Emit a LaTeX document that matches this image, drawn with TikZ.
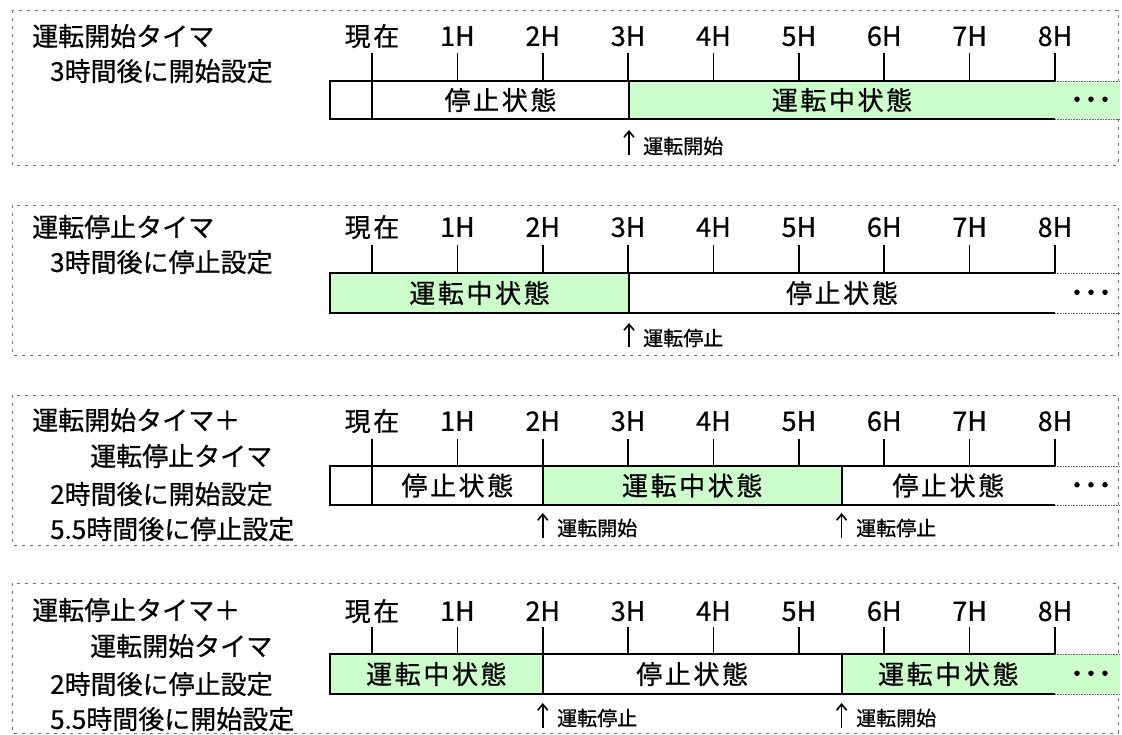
\documentclass[tikz,border=0pt]{standalone}
\usepackage{fontspec}
\setmainfont{Noto Sans CJK JP}
\newfontfamily\jp{Noto Sans CJK JP}[FakeBold=0.6]
\newfontfamily\jpsp{Noto Sans CJK JP}[FakeBold=0.6,LetterSpace=10]
\newfontfamily\jpdot{Noto Sans CJK JP}[FakeBold=2.5]
\usetikzlibrary{arrows.meta}
\definecolor{rungreen}{HTML}{CCFFCC}
\definecolor{hatchgray}{gray}{0.45}
\begin{document}
\begin{tikzpicture}[x=1pt,y=-1pt,
  big/.style={inner sep=0pt, text height=22.9pt, text depth=3.1pt},
  small/.style={inner sep=0pt, text height=17.6pt, text depth=2.4pt},
  title/.style={big, anchor=west, font=\jp\fontsize{26}{26}\selectfont},
  hourlbl/.style={big, font=\jp\fontsize{27}{27}\selectfont},
  nowlbl/.style={big, font=\jpsp\fontsize{26}{26}\selectfont},
  state/.style={big, font=\jpsp\fontsize{26}{26}\selectfont},
  dots/.style={big, font=\jpdot\fontsize{28}{28}\selectfont},
  note/.style={small, anchor=west, font=\jp\fontsize{20}{20}\selectfont},
  boxline/.style={draw=black, line width=2pt},
  tickline/.style={draw=black, line width=1.6pt},
  extline/.style={draw=black!60, line width=0.8pt, dash pattern=on 0.8pt off 0.8pt},
  frame/.style={draw=hatchgray, line width=0.9pt, dash pattern=on 3pt off 5pt},
  ev/.style={draw=black, line width=1.6pt, -{Straight Barb[length=6pt,width=10pt]}}
]
\useasboundingbox (0,0) rectangle (1122,735);
\fill[white] (0,0) rectangle (1122,735);

% ================= Panel 1 =================
\draw[frame] (12,10) rectangle (1118,165);
\node[title] (p1t) at (32,36) {運転開始タイマ};
\node[title] (p1s) at (50,71) {3時間後に開始設定};
\fill[rungreen] (629,81) rectangle (1120,119);
\node[nowlbl] (p1h0) at (372,36) {現在};
\draw[tickline] (372,53) -- (372,81);
\foreach \h/\l in {1/1H,2/2H,3/3H,4/4H,5/5H,6/6H,7/7H,8/8H}{
  \node[hourlbl] (p1h\h) at ({372+85.375*\h},36) {\l};
  \draw[tickline] ({372+85.375*\h},53) -- ({372+85.375*\h},81);
}
\draw[boxline] (330,81) -- (1055,81);
\draw[boxline] (330,119) -- (1055,119);
\draw[boxline] (330,80) -- (330,120);
\draw[boxline] (372,81) -- (372,119);
\draw[boxline] (629,81) -- (629,119);
\draw[extline] (1055,81) -- (1120,81);
\draw[extline] (1055,119) -- (1120,119);
\node[state] (p1c1) at (500.5,100) {停止状態};
\node[state] (p1c2) at (842,100) {運転中状態};
\node[dots] (p1m) at (1091,100) {･･･};
\coordinate (p1a0) at (629,155);
\coordinate (p1a1) at (629,130);
\draw[ev] (p1a0) -- (p1a1);
\node[note] (p1n) at (643,146) {運転開始};

% ================= Panel 2 =================
\draw[frame] (12,205) rectangle (1118,355);
\node[title] (p2t) at (32,227) {運転停止タイマ};
\node[title] (p2s) at (50,262) {3時間後に停止設定};
\fill[rungreen] (330,273) rectangle (629,313);
\node[nowlbl] (p2h0) at (372,227) {現在};
\draw[tickline] (372,245) -- (372,273);
\foreach \h/\l in {1/1H,2/2H,3/3H,4/4H,5/5H,6/6H,7/7H,8/8H}{
  \node[hourlbl] (p2h\h) at ({372+85.375*\h},227) {\l};
  \draw[tickline] ({372+85.375*\h},245) -- ({372+85.375*\h},273);
}
\draw[boxline] (330,273) -- (1055,273);
\draw[boxline] (330,313) -- (1055,313);
\draw[boxline] (330,272) -- (330,314);
\draw[boxline] (629,273) -- (629,313);
\draw[extline] (1055,273) -- (1120,273);
\draw[extline] (1055,313) -- (1120,313);
\node[state] (p2c1) at (479.5,293) {運転中状態};
\node[state] (p2c2) at (842,293) {停止状態};
\node[dots] (p2m) at (1091,293) {･･･};
\coordinate (p2a0) at (629,347);
\coordinate (p2a1) at (629,323);
\draw[ev] (p2a0) -- (p2a1);
\node[note] (p2n) at (643,338) {運転停止};

% ================= Panel 3 =================
\draw[frame] (12,395) rectangle (1118,545);
\node[title] (p3t) at (32,420) {運転開始タイマ＋};
\node[title] (p3t2) at (90,456) {運転停止タイマ};
\node[title] (p3s) at (50,494) {2時間後に開始設定};
\node[title] (p3s2) at (50,529) {5.5時間後に停止設定};
\fill[rungreen] (542.75,466) rectangle (841.6,505);
\node[nowlbl] (p3h0) at (372,421) {現在};
\draw[tickline] (372,439) -- (372,466);
\foreach \h/\l in {1/1H,2/2H,3/3H,4/4H,5/5H,6/6H,7/7H,8/8H}{
  \node[hourlbl] (p3h\h) at ({372+85.375*\h},421) {\l};
  \draw[tickline] ({372+85.375*\h},439) -- ({372+85.375*\h},466);
}
\draw[boxline] (330,466) -- (1055,466);
\draw[boxline] (330,505) -- (1055,505);
\draw[boxline] (330,465) -- (330,506);
\draw[boxline] (372,466) -- (372,505);
\draw[boxline] (542.75,466) -- (542.75,505);
\draw[boxline] (841.6,466) -- (841.6,505);
\draw[extline] (1055,466) -- (1120,466);
\draw[extline] (1055,505) -- (1120,505);
\node[state] (p3c1) at (457.4,485.5) {停止状態};
\node[state] (p3c2) at (692.2,485.5) {運転中状態};
\node[state] (p3c3) at (948.3,485.5) {停止状態};
\node[dots] (p3m) at (1091,485.5) {･･･};
\coordinate (p3a0) at (542.75,538);
\coordinate (p3a1) at (542.75,513);
\draw[ev] (p3a0) -- (p3a1);
\node[note] (p3n) at (557,528) {運転開始};
\coordinate (p3b0) at (841.6,538);
\coordinate (p3b1) at (841.6,513);
\draw[ev] (p3b0) -- (p3b1);
\node[note] (p3n2) at (856,528) {運転停止};

% ================= Panel 4 =================
\draw[frame] (12,583) rectangle (1118,733);
\node[title] (p4t) at (32,610) {運転停止タイマ＋};
\node[title] (p4t2) at (90,646) {運転開始タイマ};
\node[title] (p4s) at (50,684) {2時間後に停止設定};
\node[title] (p4s2) at (50,719) {5.5時間後に開始設定};
\fill[rungreen] (330,654) rectangle (542.75,694);
\fill[rungreen] (841.6,654) rectangle (1120,694);
\node[nowlbl] (p4h0) at (372,611) {現在};
\draw[tickline] (372,627) -- (372,654);
\foreach \h/\l in {1/1H,2/2H,3/3H,4/4H,5/5H,6/6H,7/7H,8/8H}{
  \node[hourlbl] (p4h\h) at ({372+85.375*\h},611) {\l};
  \draw[tickline] ({372+85.375*\h},627) -- ({372+85.375*\h},654);
}
\draw[boxline] (330,654) -- (1055,654);
\draw[boxline] (330,694) -- (1055,694);
\draw[boxline] (330,653) -- (330,695);
\draw[boxline] (542.75,654) -- (542.75,694);
\draw[boxline] (841.6,654) -- (841.6,694);
\draw[extline] (1055,654) -- (1120,654);
\draw[extline] (1055,694) -- (1120,694);
\node[state] (p4c1) at (436.4,674) {運転中状態};
\node[state] (p4c2) at (692.2,674) {停止状態};
\node[state] (p4c3) at (948.3,674) {運転中状態};
\node[dots] (p4m) at (1091,674) {･･･};
\coordinate (p4a0) at (542.75,728);
\coordinate (p4a1) at (542.75,703);
\draw[ev] (p4a0) -- (p4a1);
\node[note] (p4n) at (557,718) {運転停止};
\coordinate (p4b0) at (841.6,728);
\coordinate (p4b1) at (841.6,703);
\draw[ev] (p4b0) -- (p4b1);
\node[note] (p4n2) at (856,718) {運転開始};
\end{tikzpicture}
\end{document}
